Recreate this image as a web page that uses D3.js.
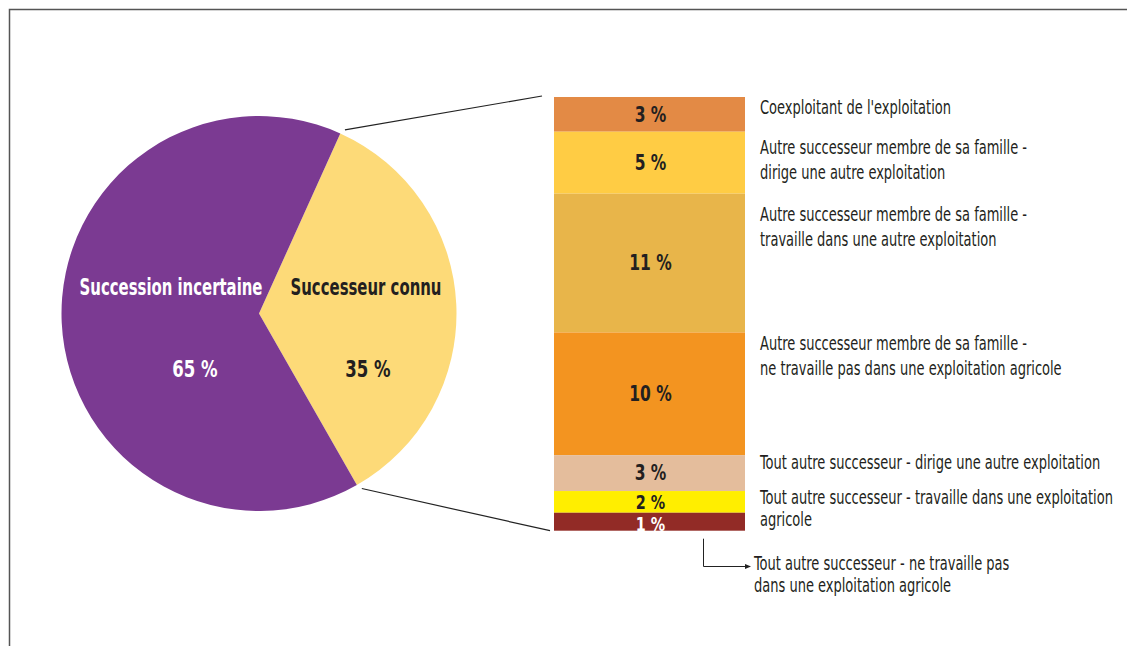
<!DOCTYPE html>
<html><head><meta charset="utf-8">
<script src="https://cdn.jsdelivr.net/npm/d3@7"></script>
<style>
body{margin:0;background:#fff;}
svg{display:block;}
text{font-family:"DejaVu Sans Condensed","DejaVu Sans",sans-serif;}
</style></head>
<body>
<svg id="c" width="1127" height="646"></svg>
<script>
// Pie data
const pieCategories = ["Successeur connu", "Succession incertaine"];
const pieValues = [35, 65];
const pieLabels = ["35 %", "65 %"];
const pieColors = ["#FDDA78", "#7B3A92"];

// Breakdown bar data (parts of the 35 %)
const barCategories = [
  ["Coexploitant de l'exploitation"],
  ["Autre successeur membre de sa famille -", "dirige une autre exploitation"],
  ["Autre successeur membre de sa famille -", "travaille dans une autre exploitation"],
  ["Autre successeur membre de sa famille -", "ne travaille pas dans une exploitation agricole"],
  ["Tout autre successeur - dirige une autre exploitation"],
  ["Tout autre successeur - travaille dans une exploitation", "agricole"],
  ["Tout autre successeur - ne travaille pas", "dans une exploitation agricole"]
];
const barValues = [2.8, 5.0, 11.2, 9.9, 2.9, 1.75, 1.45];
const barLabels = ["3 %", "5 %", "11 %", "10 %", "3 %", "2 %", "1 %"];
const barColors = ["#E38A45", "#FFCC44", "#E8B54A", "#F39420", "#E4BD9C", "#FFEE00", "#922B26"];
const barLabelColors = ["#231F20","#231F20","#231F20","#231F20","#231F20","#231F20","#FFFFFF"];

const svg = d3.select("#c");

// frame
svg.append("path").attr("d","M9.5,646 L9.5,9.5 L1127,9.5")
  .attr("fill","none").attr("stroke","#555").attr("stroke-width",1.5);

// helper: horizontally condensed text
function ctext(sel, x, y, sx){
  return sel.append("text").attr("transform",`translate(${x},${y}) scale(${sx},1)`)
    .attr("dominant-baseline","central");
}

// Pie
const cx = 259, cy = 313.5, R = 197.5;
const startDeg = 24.3;
const pie = d3.pie().sort(null).value(d => d)
  .startAngle(startDeg*Math.PI/180).endAngle(startDeg*Math.PI/180 + 2*Math.PI);
const arcs = pie(pieValues);
const arc = d3.arc().innerRadius(0).outerRadius(R);
const gp = svg.append("g").attr("transform",`translate(${cx},${cy})`);
gp.selectAll("path").data(arcs).join("path")
  .attr("d", arc).attr("fill",(d,i)=>pieColors[i]);

// pie labels
const pieLabelPos = [[107, -27, 109, 56],[-88, -27, -64, 56]];
arcs.forEach((d,i)=>{
  const col = i===0 ? "#231F20" : "#FFFFFF";
  ctext(gp, pieLabelPos[i][0], pieLabelPos[i][1], 0.72)
    .attr("text-anchor","middle").attr("font-size",23).attr("font-weight","bold")
    .attr("fill",col).text(pieCategories[i]);
  ctext(gp, pieLabelPos[i][2], pieLabelPos[i][3], 0.8)
    .attr("text-anchor","middle").attr("font-size",23).attr("font-weight","bold")
    .attr("fill",col).text(pieLabels[i]);
});

// Bar
const total = d3.sum(barValues);
const y = d3.scaleLinear().domain([0,total]).range([97, 530.7]);
const bx0 = 554, bx1 = 745;
const cum = [0]; barValues.forEach(v=>cum.push(cum[cum.length-1]+v));
const segs = barValues.map((v,i)=>({v,i,y0:cum[i],y1:cum[i+1]}));
svg.selectAll("rect.seg").data(segs).join("rect")
  .attr("class","seg")
  .attr("x",bx0).attr("width",bx1-bx0)
  .attr("y",d=>y(d.y0)).attr("height",d=>y(d.y1)-y(d.y0))
  .attr("fill",d=>barColors[d.i]);
const bl = svg.append("g");
segs.forEach(d=>{
  const yy = (y(d.y0)+y(d.y1))/2 + (d.i===6?2:d.i===5?0:d.i===0?1:0);
  ctext(bl, (bx0+bx1)/2+1, yy, 0.82)
    .attr("text-anchor","middle").attr("font-size", d.i>=5 ? 19.5 : 21).attr("font-weight","bold")
    .attr("fill",barLabelColors[d.i]).text(barLabels[d.i]);
});

// connector lines from pie to bar
const a0 = arcs[0].startAngle, a1 = arcs[0].endAngle;
const pt = (a,r)=>[cx + r*Math.sin(a), cy - r*Math.cos(a)];
const p0 = pt(a0, R+4), p1 = pt(a1, R+4);
svg.append("line").attr("x1",p0[0]+3).attr("y1",p0[1]).attr("x2",542).attr("y2",y(0)-1)
  .attr("stroke","#222").attr("stroke-width",1.2);
svg.append("line").attr("x1",p1[0]+3).attr("y1",p1[1]).attr("x2",550).attr("y2",y(total))
  .attr("stroke","#222").attr("stroke-width",1.2);

// legend text
const legendY = [107, 147, 214, 343, 462, 497, 563];
const lineHs = [25.5,25.5,25.5,25.5,25.5,22,22];
const lg = svg.append("g");
barCategories.forEach((lines,i)=>{
  const x = i===6 ? 754 : 760;
  lines.forEach((s,j)=>{
    ctext(lg, x, legendY[i] + j*lineHs[i], 0.762)
      .attr("font-size",19).attr("fill","#231F20").text(s);
  });
});

// arrow for last category
svg.append("path").attr("d",`M703.5,${y(total)+8} L703.5,566.5 L749,566.5`)
  .attr("fill","none").attr("stroke","#222").attr("stroke-width",1);
svg.append("path").attr("d","M745,564 L751,566.5 L745,569 Z").attr("fill","#222");
</script>
</body></html>
